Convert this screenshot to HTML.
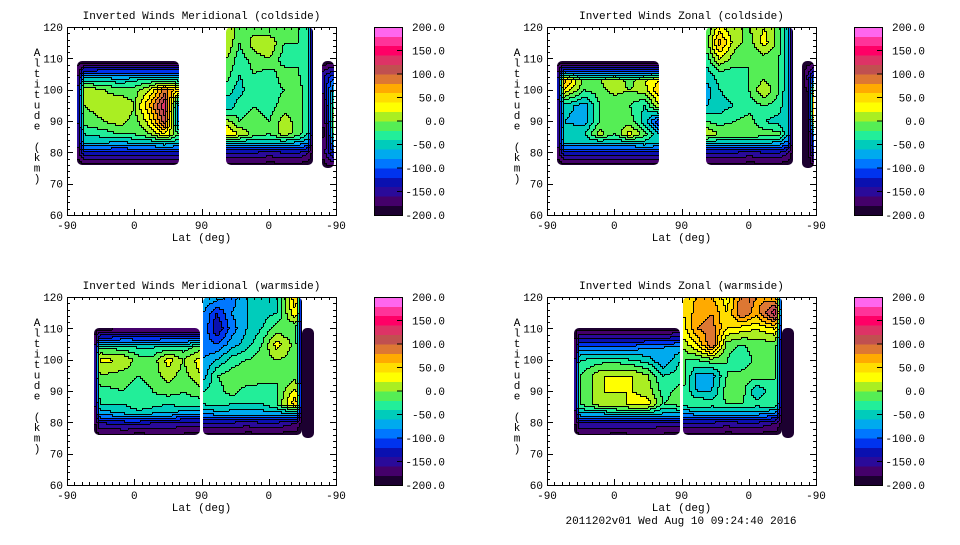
<!DOCTYPE html>
<html><head><meta charset="utf-8"><style>
html,body{margin:0;padding:0;background:#fff;}
svg text{font-family:"Liberation Mono","DejaVu Sans Mono",monospace;font-size:11px;fill:#000;}
</style></head><body>
<svg id="chart" width="960" height="540" xmlns="http://www.w3.org/2000/svg">
<rect width="960" height="540" fill="#fff"/>
<text x="681" y="524" text-anchor="middle">2011202v01 Wed Aug 10 09:24:40 2016</text>
</svg>
<script>
// ---- data ----
var colorLevels = [-200,-180,-160,-140,-120,-100,-80,-60,-40,-20,0,20,40,60,80,100,120,140,160,180,200];
var colorbarLabels = ["200.0","150.0","100.0","50.0","0.0","-50.0","-100.0","-150.0","-200.0"];
var xTickLabels = ["-90","0","90","0","-90"];
var yTickLabels = ["60","70","80","90","100","110","120"];
var panelTitles = ["Inverted Winds Meridional (coldside)","Inverted Winds Zonal (coldside)","Inverted Winds Meridional (warmside)","Inverted Winds Zonal (warmside)"];

var coldColsA = [13,22,50,70,90,110,130,150];
var coldAltsA = [109,106,103,100,95,90,86,83,80,76];
var coldColsB = [213,230,250,270,290,310,322,329];
var coldAltsB = [120,115,110,105,100,95,90,86,83,80,76];
var coldColsC = [341,349,357];
var coldAltsC = [109,104,98,92,86,80,75];
var warmColsA = [36,43,75,95,115,135,155,178];
var warmAltsA = [110,107,104,100,95,90,86,83,80,76];
var warmColsB = [182,200,220,240,260,280,306,315];
var warmAltsB = [120,115,110,105,100,95,90,86,83,80,76];
var warmColsC = [315,330];
var warmAltsC = [110,75];

var merColdA = [
[-190,-185,-185,-185,-185,-185,-185,-185],
[-180,-120,-110,-110,-110,-110,-110,-110],
[-170,-40,-40,-50,-40,-30,-30,-40],
[-170,20,0,-10,-10,20,90,40],
[-170,0,10,20,0,60,140,-100],
[-170,-10,0,10,-10,30,110,-100],
[-170,-40,-30,-20,-20,0,40,-20],
[-175,-60,-60,-70,-60,-60,-50,-60],
[-180,-130,-130,-130,-130,-130,-130,-130],
[-190,-185,-185,-190,-185,-185,-185,-185]];
var merColdB = [
[20,-10,-10,-20,-20,-20,-40,-190],
[20,-20,10,20,-20,-20,-40,-190],
[0,-30,-10,0,-30,-20,-40,-190],
[-10,-40,-20,-30,-10,-20,-40,-190],
[-30,-50,-20,-30,-20,-10,-40,-190],
[-60,-30,-20,-30,-10,-10,-40,-190],
[10,-20,-10,-20,10,-10,-40,-190],
[40,20,-10,-20,10,-10,-40,-190],
[-60,-60,-60,-60,-60,-70,-80,-190],
[-140,-140,-140,-150,-140,-140,-160,-190],
[-185,-185,-185,-190,-190,-190,-190,-195]];
var merColdC = [
[-190,-190,-190],[-150,-120,-100],[-180,-100,-40],[-190,-120,20],[-190,-150,0],[-180,-140,-120],[-190,-190,-190]];

var zonColdA = [
[-190,-185,-185,-185,-185,-185,-185,-185],
[-180,-100,-110,-110,-110,-110,-110,-100],
[-170,70,-10,0,20,-10,20,40],
[-170,40,-20,-10,10,0,10,60],
[-170,-50,-70,-20,-20,-20,-40,20],
[-170,-60,-70,-20,-10,-10,-50,-120],
[-170,-50,-40,10,-20,30,-10,-60],
[-175,-60,-60,-60,-60,-60,-50,-60],
[-180,-130,-130,-130,-130,-130,-130,-130],
[-190,-185,-185,-190,-185,-185,-185,-185]];
var zonColdB = [
[-20,30,0,0,20,-10,-60,-190],
[-10,70,10,-10,30,-10,-60,-190],
[-30,20,-10,-20,-10,-20,-60,-190],
[-50,-30,-30,-20,-10,-20,-60,-190],
[-70,-40,-30,-20,20,-20,-60,-190],
[-60,-50,-40,-30,-20,-30,-60,-190],
[-20,-30,-20,-10,-40,-50,-60,-190],
[20,0,0,0,-10,-10,-60,-190],
[-60,-60,-60,-60,-60,-70,-90,-190],
[-140,-140,-140,-150,-140,-140,-160,-190],
[-185,-185,-185,-190,-190,-190,-190,-195]];
var zonColdC = [
[-190,-190,-190],[-190,-150,-100],[-195,-190,80],[-195,-190,90],[-195,-190,-60],[-190,-190,-120],[-190,-190,-190]];

var merWarmA = [
[-190,-185,-185,-185,-185,-185,-185,-185],
[-190,-120,-110,-110,-110,-110,-110,-110],
[-190,-20,-30,-40,-40,-30,-30,-10],
[-190,25,20,-10,-10,30,0,30],
[-190,0,-10,-20,-10,10,-10,20],
[-190,-30,-20,-30,-20,-10,-20,-10],
[-190,-40,-40,-20,-30,-40,-30,-30],
[-190,-70,-60,-50,-60,-60,-70,-80],
[-190,-140,-130,-130,-140,-140,-150,-150],
[-190,-185,-185,-190,-185,-185,-185,-190]];
var merWarmB = [
[-60,-70,-90,-60,-50,-40,60,-190],
[-80,-120,-80,-60,-50,-40,40,-190],
[-80,-140,-90,-60,-40,-10,-20,-190],
[-90,-100,-70,-50,-20,30,-10,-190],
[-80,-60,-30,-20,-10,0,-10,-190],
[-70,-20,-10,0,-10,-20,-10,-190],
[-40,-30,-10,-30,-30,-20,30,-190],
[-40,-30,-40,-40,-40,-20,60,-190],
[-80,-70,-70,-70,-70,-70,-60,-190],
[-140,-140,-140,-150,-140,-140,-160,-190],
[-185,-185,-185,-190,-190,-190,-190,-195]];
var merWarmC = [[-195,-195],[-195,-195]];

var zonWarmA = [
[-190,-185,-185,-185,-185,-185,-185,-185],
[-190,-140,-140,-140,-140,-140,-140,-130],
[-190,-90,-90,-90,-90,-80,-80,-70],
[-190,-40,-30,-30,-40,-50,-80,-40],
[-190,-20,20,20,20,0,-40,-30],
[-190,-20,20,20,20,10,-30,-10],
[-190,-20,20,10,30,30,-20,-10],
[-190,-60,-60,-40,-40,-50,-60,-60],
[-190,-140,-140,-140,-140,-140,-150,-150],
[-190,-185,-185,-190,-185,-185,-185,-190]];
var zonWarmB = [
[50,60,60,30,90,80,60,-190],
[40,70,80,40,100,70,140,-190],
[30,80,90,40,30,20,40,-190],
[10,40,100,-10,-20,-10,-10,-190],
[-20,-20,-10,-20,-40,-10,-20,-190],
[-10,-70,-70,-20,-10,-10,-20,-190],
[-20,-60,-60,-10,-10,-60,-20,-190],
[-30,-20,-30,-20,-20,-30,-20,-190],
[-80,-70,-70,-70,-70,-70,-80,-190],
[-140,-140,-140,-150,-140,-140,-160,-190],
[-185,-185,-185,-190,-190,-190,-190,-195]];
var zonWarmC = [[-195,-195],[-195,-195]];

var bandColors = ["#1c0030","#44006a","#2a0a9a","#0a10b0","#0033ee","#0077ff","#00aaee","#00ccbb","#22ee99","#55ee55","#aaee22","#ffff00","#ffdd00","#ffaa00","#dd7733","#c05050","#dd3366","#ff0066","#ff3399","#ff66ee"];

// ---- rendering ----
var NS="http://www.w3.org/2000/svg";
var svg=document.getElementById('chart');
function mk(tag,attrs,parent){var e=document.createElementNS(NS,tag);for(var k in attrs)e.setAttribute(k,attrs[k]);(parent||svg).appendChild(e);return e;}
var PW=269,PH=188;
function xScale(p,v){return p.L+v/360*PW;}
function yScale(p,a){return p.T+PH-(a-60)/60*PH;}
function band(v){var b=Math.floor((v-colorLevels[0])/20);return Math.max(0,Math.min(19,b));}
function interp(cols,alts,grid,x,a){
  var i=0;while(i<cols.length-2&&x>cols[i+1])i++;
  var j=0;while(j<alts.length-2&&a<alts[j+1])j++;
  var tx=cols.length>1?(x-cols[i])/(cols[i+1]-cols[i]):0;tx=Math.max(0,Math.min(1,tx));
  var ty=alts.length>1?(alts[j]-a)/(alts[j]-alts[j+1]):0;ty=Math.max(0,Math.min(1,ty));
  var v00=grid[j][i],v01=grid[j][i+1],v10=grid[j+1][i],v11=grid[j+1][i+1];
  return (v00*(1-tx)+v01*tx)*(1-ty)+(v10*(1-tx)+v11*tx)*ty;
}
var clipId=0;
function drawBlock(p,g,cols,alts,grid,name){
  var x0=Math.round(xScale(p,cols[0])),x1=Math.round(xScale(p,cols[cols.length-1]));
  var y0=Math.round(yScale(p,alts[0])),y1=Math.round(yScale(p,alts[alts.length-1]));
  var id='clip'+(clipId++);
  var cp=mk('clipPath',{id:id},g);
  mk('rect',{x:x0,y:y0,width:x1-x0,height:y1-y0,rx:5},cp);
  var bg=mk('g',{'clip-path':'url(#'+id+')','shape-rendering':'crispEdges'},g);
  
  
  var S=2,bands=[];
  var nx=Math.ceil((x1-x0)/S),ny=Math.ceil((y1-y0)/S);
  for(var r=0;r<ny;r++){bands.push([]);for(var c=0;c<nx;c++){
    var px=x0+c*S+S/2,py=y0+r*S+S/2;
    var lat=(px-p.L)/PW*360,alt=60+(p.T+PH-py)/PH*60;
    bands[r].push(band(interp(cols,alts,grid,lat,alt)));}}
  for(var r=0;r<ny;r++){
    var c=0;
    while(c<nx){var c2=c;while(c2+1<nx&&bands[r][c2+1]===bands[r][c])c2++;
      var cell=mk('rect',{x:x0+c*S,y:y0+r*S,width:(c2-c+1)*S,height:S,fill:bandColors[bands[r][c]]},bg);
      
      
      c=c2+1;}
  }
  for(var r=0;r<ny;r++)for(var c=0;c<nx;c++){
    if(c<nx-1&&bands[r][c+1]!==bands[r][c])mk('rect',{x:x0+(c+1)*S,y:y0+r*S,width:1,height:S,fill:'#000'},bg);
    if(r<ny-1&&bands[r+1][c]!==bands[r][c])mk('rect',{x:x0+c*S,y:y0+(r+1)*S,width:S,height:1,fill:'#000'},bg);
  }
}
function drawPanel(idx,p,blocks){
  var g=mk('g',{});
  
  
  var t=mk('text',{x:p.L+PW/2,y:p.T-8,'text-anchor':'middle'},g);t.textContent=panelTitles[idx];
  
  blocks.forEach(function(b){drawBlock(p,g,b[0],b[1],b[2],b[3]);});
  var fr=mk('rect',{x:p.L+0.5,y:p.T+0.5,width:PW,height:PH,fill:'none',stroke:'#000','stroke-width':1},g);
  
  for(var v=0;v<=360;v+=10){var x=Math.round(xScale(p,v))+0.5,len=(v%90===0)?6:3;
    mk('line',{x1:x,x2:x,y1:p.T,y2:p.T+len,stroke:'#000'},g);mk('line',{x1:x,x2:x,y1:p.T+PH,y2:p.T+PH-len,stroke:'#000'},g);}
  for(var a=60;a<=120;a+=2){var y=Math.round(yScale(p,a))+0.5,len=(a%10===0)?6:3;
    mk('line',{x1:p.L,x2:p.L+len,y1:y,y2:y,stroke:'#000'},g);mk('line',{x1:p.L+PW,x2:p.L+PW-len,y1:y,y2:y,stroke:'#000'},g);}
  xTickLabels.forEach(function(s,i){var e=mk('text',{x:xScale(p,i*90),y:p.T+PH+14,'text-anchor':'middle'},g);e.textContent=s;
    });
  yTickLabels.forEach(function(s,i){var e=mk('text',{x:p.L-4,y:yScale(p,60+i*10)+4,'text-anchor':'end'},g);e.textContent=s;
    });
  var xl=mk('text',{x:p.L+PW/2,y:p.T+PH+26,'text-anchor':'middle'},g);xl.textContent='Lat (deg)';
  
  var chars='Altitude (km)'.split('');
  chars.forEach(function(ch,i){var e=mk('text',{x:p.L-30,y:p.T+29+i*10.5,'text-anchor':'middle'},g);e.textContent=ch;
    });
  var cbx=p.L+307,cbw=28;
  var cb=mk('g',{'shape-rendering':'crispEdges'},g);
  for(var k=0;k<20;k++){var yb=p.T+PH-(k+1)*PH/20;
    var r=mk('rect',{x:cbx,y:yb,width:cbw,height:PH/20+0.4,fill:bandColors[k]},cb);
    }
  mk('rect',{x:cbx+0.5,y:p.T+0.5,width:cbw,height:PH,fill:'none',stroke:'#000'},cb);
  colorbarLabels.forEach(function(s,i){var y=p.T+i*PH/8;
    if(i>0&&i<8)mk('line',{x1:cbx+cbw-5,x2:cbx+cbw,y1:y,y2:y,stroke:'#000'},cb);
    var e=mk('text',{x:cbx+71,y:y+4,'text-anchor':'end'},cb);e.textContent=s;
    });
}
drawPanel(0,{L:67,T:27},[[coldColsA,coldAltsA,merColdA,'data-block-a'],[coldColsB,coldAltsB,merColdB,'data-block-b'],[coldColsC,coldAltsC,merColdC,'data-block-c']]);
drawPanel(1,{L:547,T:27},[[coldColsA,coldAltsA,zonColdA,'data-block-a'],[coldColsB,coldAltsB,zonColdB,'data-block-b'],[coldColsC,coldAltsC,zonColdC,'data-block-c']]);
drawPanel(2,{L:67,T:297},[[warmColsA,warmAltsA,merWarmA,'data-block-a'],[warmColsB,warmAltsB,merWarmB,'data-block-b'],[warmColsC,warmAltsC,merWarmC,'data-block-c']]);
drawPanel(3,{L:547,T:297},[[warmColsA,warmAltsA,zonWarmA,'data-block-a'],[warmColsB,warmAltsB,zonWarmB,'data-block-b'],[warmColsC,warmAltsC,zonWarmC,'data-block-c']]);
</script>
</body></html>
